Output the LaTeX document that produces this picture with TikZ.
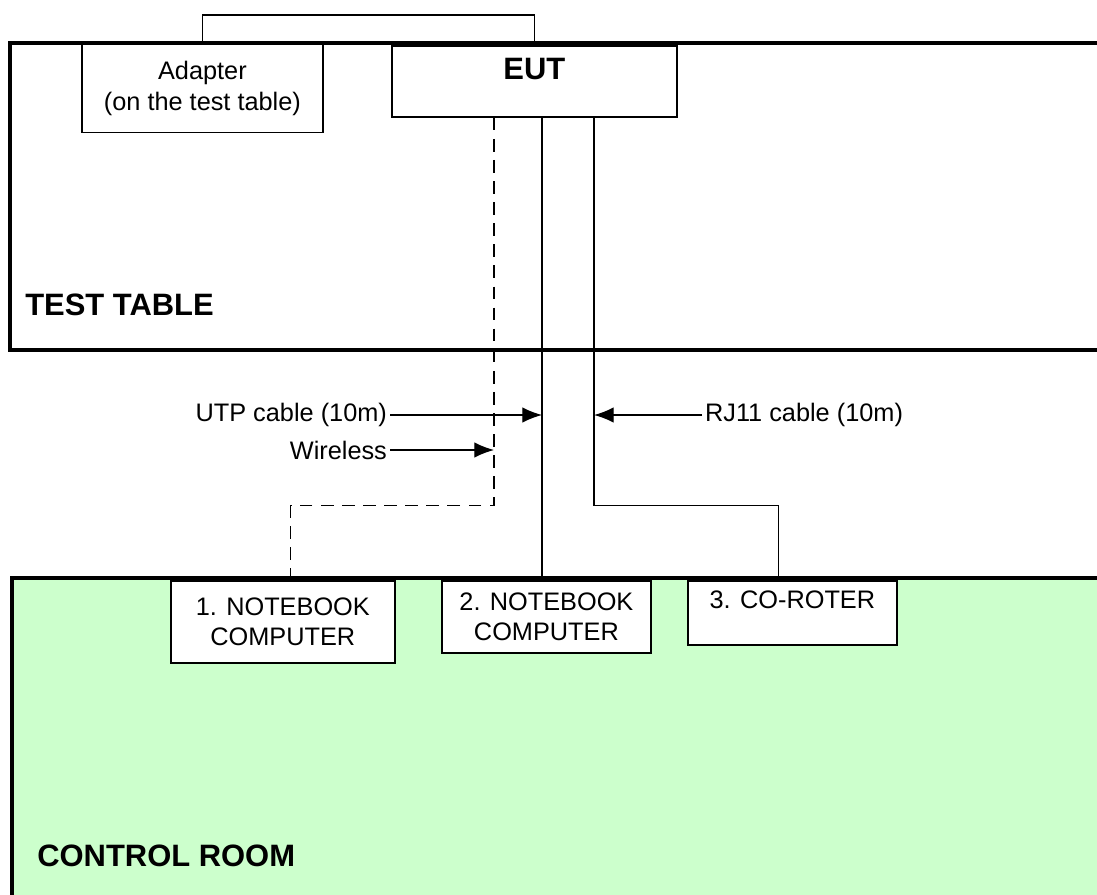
\documentclass[tikz,border=0pt]{standalone}
\usepackage{fontspec}
\setmainfont{Liberation Sans}
\usetikzlibrary{arrows.meta,positioning}
\definecolor{roomgreen}{HTML}{CCFFCC}

\begin{document}
\begin{tikzpicture}[x=0.025cm, y=-0.025cm,
            box/.style={draw, fill=white, line width=1.1pt, anchor=north west, align=center, inner sep=0pt, font=\fontsize{18}{22}\selectfont},
            room/.style={line width=3.5pt},
            cable/.style={line width=0.9pt},
            wcable/.style={cable, dash pattern=on 9pt off 6pt},
            arrow/.style={-{Latex[length=14pt,width=11pt]}, line width=0.9pt},
            txt/.style={font=\fontsize{18}{22}\selectfont, inner sep=2pt},
            bold/.style={font=\fontsize{22}{26}\selectfont\bfseries, inner sep=0pt}
        ]
        \clip (0,0) rectangle (1097,894);

        % Rooms
        \fill[roomgreen] (12,578) rectangle (1200,1000);
        \draw[room] (1200,578) -| (12,1000);
        \draw[room] (1200,43) -| (10,350) -- (1200,350);

        \node[bold, anchor=west] (testtable) at (25,305) {TEST TABLE};
        \node[bold, anchor=west] (controlroom) at (37,856) {CONTROL ROOM};

        % Equipment
        \node[box, minimum width=6.03cm, minimum height=2.22cm] (adapter) at (81,43) {Adapter\\(on the test table)};
        \node[box, minimum width=7.13cm, minimum height=1.78cm] (eut) at (391,45) {};
        \node[bold, below=0.32cm of eut.north] (euttext) {EUT};

        \node[box, minimum width=5.6cm, minimum height=2.05cm] (nb1) at (170,580) {1. NOTEBOOK\\COMPUTER};
        \node[box, minimum width=5.23cm, minimum height=1.8cm] (nb2) at (441,580) {2. NOTEBOOK\\COMPUTER};
        \node[box, minimum width=5.23cm, minimum height=1.6cm] (coroter) at (687,580) {};
        \node[txt, below=0.2cm of coroter.north] (corotertext) {3. CO-ROTER};

        % Cable exits
        \coordinate (wl) at ([xshift=-1.01cm]eut.south);
        \coordinate (utp) at ([xshift=0.19cm]eut.south);
        \coordinate (rj) at ([xshift=1.49cm]eut.south);

        % Cables
        \draw[cable] (adapter.north) -- ++(0,-28) -| (eut.north);
        \draw[wcable] (wl) -- ++(0,388) -| ([xshift=0.2cm]nb1.north);
        \draw[cable] (utp) -- (utp |- nb2.north);
        \draw[cable] (rj) -- ++(0,388) -| ([xshift=-0.34cm]coroter.north);

        % Cable labels
        \node[txt, anchor=east] (utplabel) at (390,415) {UTP cable (10m)};
        \node[txt, anchor=east] (wllabel) at (390,450) {Wireless};
        \node[txt, anchor=west] (rjlabel) at (702,415) {RJ11 cable (10m)};

        \draw[arrow] (utplabel.east) -- (utplabel.east -| utp);
        \draw[arrow] (wllabel.east) -- (wllabel.east -| wl);
        \draw[arrow] (rjlabel.west) -- (rjlabel.west -| rj);

    \end{tikzpicture}
\end{document}
